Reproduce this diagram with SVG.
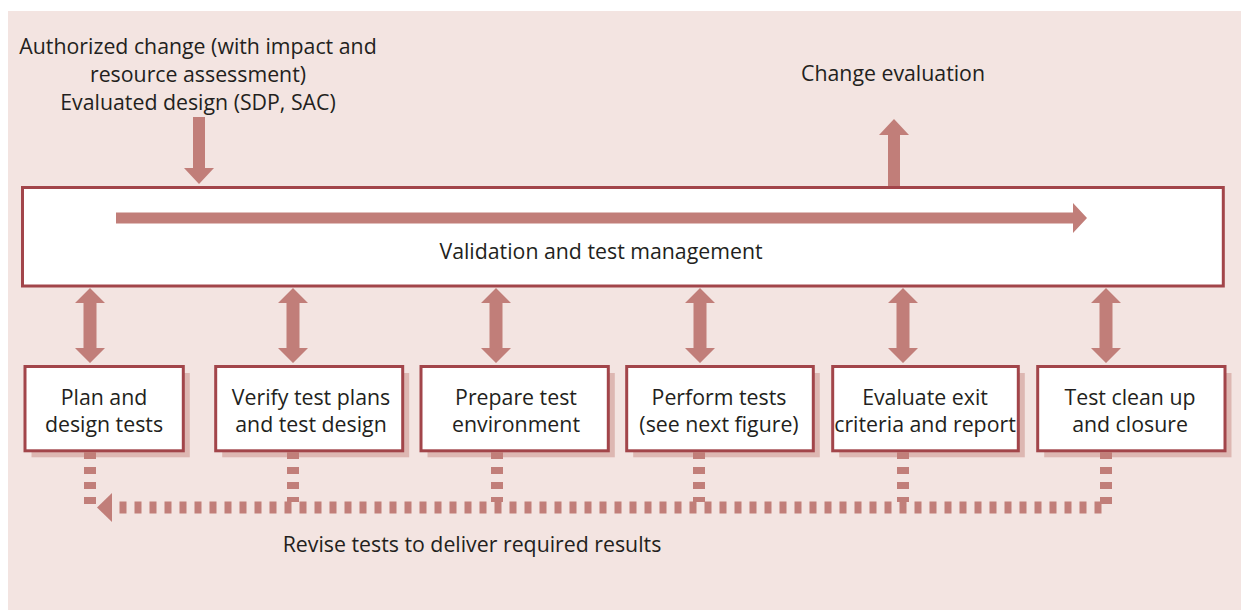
<svg xmlns="http://www.w3.org/2000/svg" width="1241" height="610" viewBox="0 0 1241 610">
<style>
text{font-family:"Open Sans","Noto Sans","Liberation Sans",sans-serif;font-size:21.3px;fill:#231f20;text-anchor:middle}
.box{fill:#ffffff;stroke:#a2454a;stroke-width:3}
.shadow{fill:#ddb7b2}
.arr{fill:#c17e79}
.dash{fill:none;stroke:#c17e79;stroke-width:12;stroke-dasharray:7 8}
</style>
<rect x="8" y="11" width="1233" height="599" fill="#f3e4e1"/>
<g id="inputs">
<text x="198" y="54">Authorized change (with impact and</text>
<text x="198" y="82">resource assessment)</text>
<text x="198" y="110">Evaluated design (SDP, SAC)</text>
</g>
<g id="output">
<text x="893" y="81">Change evaluation</text>
</g>
<g id="management">
<rect class="box" x="22.5" y="187.5" width="1200.8" height="98.5"/>
<text x="601" y="259">Validation and test management</text>
</g>
<g id="plan">
<rect class="shadow" x="31.5" y="373" width="158.3" height="84.3"/>
<rect class="box" x="25" y="366.5" width="158.3" height="84.3"/>
<text x="104" y="405">Plan and</text>
<text x="104" y="432">design tests</text>
</g>
<g id="verify">
<rect class="shadow" x="222.2" y="373" width="187" height="84.3"/>
<rect class="box" x="215.7" y="366.5" width="187" height="84.3"/>
<text x="311" y="405">Verify test plans</text>
<text x="311" y="432">and test design</text>
</g>
<g id="prepare">
<rect class="shadow" x="427.5" y="373" width="187.3" height="84.3"/>
<rect class="box" x="421" y="366.5" width="187.3" height="84.3"/>
<text x="516" y="405">Prepare test</text>
<text x="516" y="432">environment</text>
</g>
<g id="perform">
<rect class="shadow" x="633.2" y="373" width="186.6" height="84.3"/>
<rect class="box" x="626.7" y="366.5" width="186.6" height="84.3"/>
<text x="719" y="405">Perform tests</text>
<text x="719" y="432">(see next figure)</text>
</g>
<g id="evaluate">
<rect class="shadow" x="839.2" y="373" width="185.6" height="84.3"/>
<rect class="box" x="832.7" y="366.5" width="185.6" height="84.3"/>
<text x="925" y="405">Evaluate exit</text>
<text x="925" y="432">criteria and report</text>
</g>
<g id="closure">
<rect class="shadow" x="1044.2" y="373" width="187.3" height="84.3"/>
<rect class="box" x="1037.7" y="366.5" width="187.3" height="84.3"/>
<text x="1130" y="405">Test clean up</text>
<text x="1130" y="432">and closure</text>
</g>
<g id="revise-label">
<text x="472" y="552">Revise tests to deliver required results</text>
</g>
<g id="connectors">
<path class="arr" d="M193,117 H205 V168 H214 L199,184 L184,168 H193 Z"/>
<path class="arr" d="M888,186 V135 H879 L894,119 L909,135 H900 V186 Z"/>
<path class="arr" d="M116,212.5 H1073 V203 L1087,218 L1073,233 V223.5 H116 Z"/>
<path class="arr" d="M90,288 L105,303 H96.5 V348 H105 L90,363 L75,348 H83.5 V303 H75 Z"/>
<path class="arr" d="M293,288 L308,303 H299.5 V348 H308 L293,363 L278,348 H286.5 V303 H278 Z"/>
<path class="arr" d="M496,288 L511,303 H502.5 V348 H511 L496,363 L481,348 H489.5 V303 H481 Z"/>
<path class="arr" d="M700,288 L715,303 H706.5 V348 H715 L700,363 L685,348 H693.5 V303 H685 Z"/>
<path class="arr" d="M903,288 L918,303 H909.5 V348 H918 L903,363 L888,348 H896.5 V303 H888 Z"/>
<path class="arr" d="M1106,288 L1121,303 H1112.5 V348 H1121 L1106,363 L1091,348 H1099.5 V303 H1091 Z"/>
<path class="dash" d="M90,452 V508"/>
<path class="dash" d="M293,452 V502"/>
<path class="dash" d="M497,452 V502"/>
<path class="dash" d="M699,452 V502"/>
<path class="dash" d="M903,452 V502"/>
<path class="dash" d="M1106,452 V507.5 H112"/>
<path class="arr" d="M112,493 V522 L97,507.5 Z"/>
</g>
</svg>
